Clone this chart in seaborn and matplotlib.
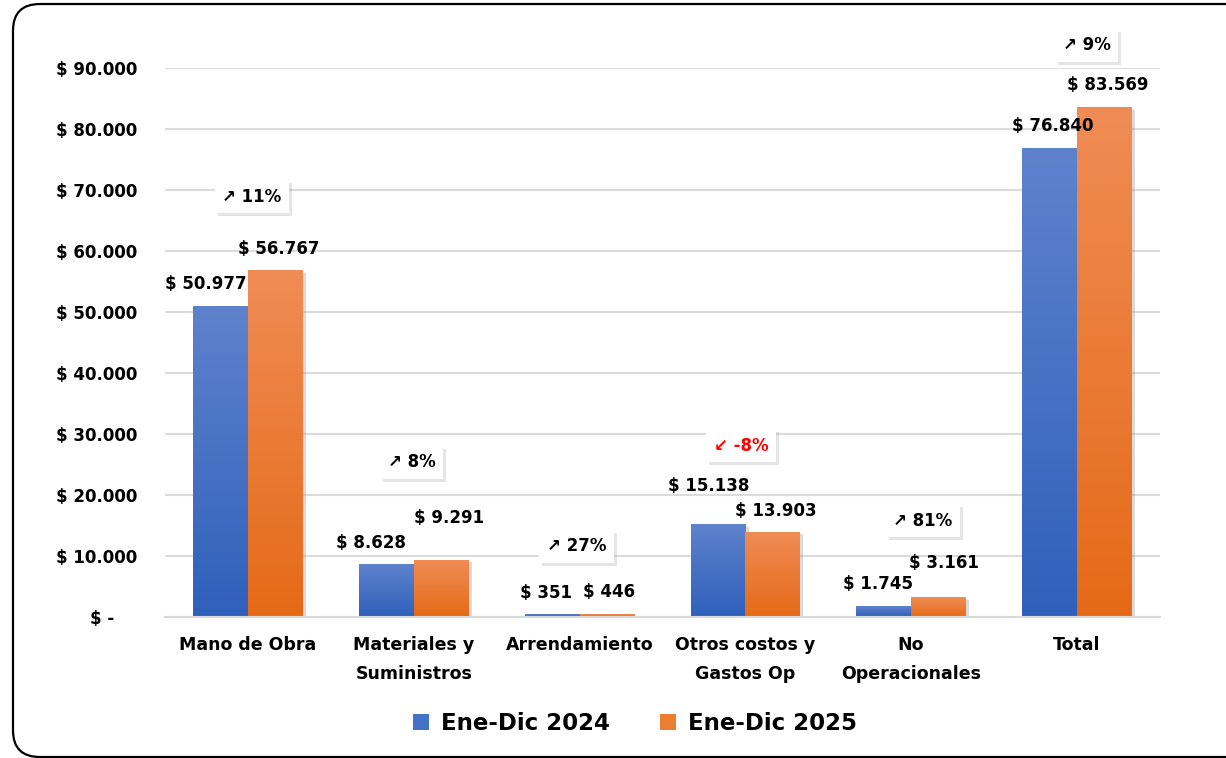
import numpy as np
import pandas as pd
import matplotlib
matplotlib.use("Agg")
import matplotlib.pyplot as plt
import matplotlib.patheffects as pe
from matplotlib.colors import LinearSegmentedColormap
from matplotlib.patches import FancyBboxPatch, Patch
import seaborn as sns

categories = ["Mano de Obra", "Materiales y\nSuministros", "Arrendamiento",
              "Otros costos y\nGastos Op", "No\nOperacionales", "Total"]
periods = ["Ene-Dic 2024", "Ene-Dic 2025"]
values_2024 = [50977, 8628, 351, 15138, 1745, 76840]
values_2025 = [56767, 9291, 446, 13903, 3161, 83569]
pct_change = [11, 8, 27, -8, 81, 9]
y_ticks = [0, 10000, 20000, 30000, 40000, 50000, 60000, 70000, 80000, 90000]

df = pd.DataFrame({
    "categoria": categories * 2,
    "periodo": [periods[0]] * 6 + [periods[1]] * 6,
    "valor": values_2024 + values_2025,
})

sns.set_theme(style="white")
plt.rcParams["font.family"] = ["DejaVu Sans"]
plt.rcParams["font.weight"] = "bold"
plt.rcParams["text.color"] = "black"

grad_colors = [("#2f60bb", "#5f82cc"), ("#e56a17", "#f08c55")]
solid_colors = ["#4472c4", "#ed7d31"]

fig = plt.figure(figsize=(12.26, 7.58), dpi=100)
ax = fig.add_axes([0.1346, 0.186, 0.8114, 0.724])

sns.barplot(data=df, x="categoria", y="valor", hue="periodo", order=categories,
            hue_order=periods, palette=solid_colors, width=0.66, gap=0,
            linewidth=0, errorbar=None, ax=ax, zorder=2)
ax.get_legend().remove()

# gradient fill + shadow per bar
for k, cont in enumerate(ax.containers):
    cmap = LinearSegmentedColormap.from_list("g%d" % k, list(grad_colors[k]))
    for bar in cont:
        x0, w, h = bar.get_x(), bar.get_width(), bar.get_height()
        bar.set_path_effects([pe.SimplePatchShadow(offset=(2.5, -1.5), shadow_rgbFace="#888888", alpha=0.3), pe.Normal()])
        grad = np.linspace(0, 1, 256).reshape(-1, 1)
        ax.imshow(grad, extent=[x0, x0 + w, 0, h], origin="lower", aspect="auto",
                  cmap=cmap, zorder=2.5, interpolation="bicubic")

ax.set_xlim(-0.5, 5.5)
ax.set_ylim(0, 90000)
ax.set_yticks(y_ticks)
ax.set_yticklabels(["$ -    " if v == 0 else "$ " + f"{v:,}".replace(",", ".") for v in y_ticks])
ax.grid(axis="y", color="#dcdcdc", linewidth=1.5, zorder=0)
ax.set_axisbelow(True)
for s in ["top", "right", "left"]:
    ax.spines[s].set_visible(False)
ax.spines["bottom"].set_color("#d9d9d9")
ax.spines["bottom"].set_linewidth(1.5)
ax.tick_params(axis="y", length=0, pad=20, labelsize=12, labelcolor="black")
ax.tick_params(axis="x", length=0, pad=14, labelsize=12.5, labelcolor="black")
for t in ax.get_xticklabels():
    t.set_linespacing(1.75)
    t.set_fontweight("bold")
for t in ax.get_yticklabels():
    t.set_fontweight("bold")
ax.set_xlabel("")
ax.set_ylabel("")

# value labels (offsets in pixels relative to bar top)
offsets_2024 = [(-15, 22), (-15, 21), (-6, 22), (-9, 39), (-6, 22), (3, 22)]
offsets_2025 = [(3, 22), (8, 42), (2, 22), (3, 21), (5, 35), (3, 22)]
for k, offs in enumerate([offsets_2024, offsets_2025]):
    for bar, off in zip(ax.containers[k], offs):
        v = bar.get_height()
        ax.annotate("$ " + f"{int(round(v)):,}".replace(",", "."),
                    xy=(bar.get_x() + bar.get_width() / 2, v), xytext=off,
                    textcoords="offset pixels", ha="center", va="center",
                    fontsize=12, fontweight="bold", color="black", zorder=5,
                    annotation_clip=False)

# percentage change boxes
pct_offsets = [(4, 74), (-2, 98), (-3, 68), (-4, 79), (12, 77), (10, 62)]
for i, (p, off) in enumerate(zip(pct_change, pct_offsets)):
    top = max(values_2024[i], values_2025[i])
    txt = ("\u2197 %d%%" % p) if p >= 0 else ("\u2199 %d%%" % p)
    col = "black" if p >= 0 else "red"
    a = ax.annotate(txt, xy=(i, top), xytext=off, textcoords="offset pixels",
                    ha="center", va="center", fontsize=12, fontweight="bold",
                    color=col, zorder=6, annotation_clip=False,
                    bbox=dict(boxstyle="square,pad=0.45", fc="white", ec="none"))
    a.get_bbox_patch().set_path_effects([
        pe.SimplePatchShadow(offset=(2, -2), shadow_rgbFace="#aaaaaa", alpha=0.3),
        pe.Normal()])

handles = [Patch(facecolor=c, edgecolor="none") for c in solid_colors]
fig.legend(handles, periods, loc="center", bbox_to_anchor=(0.518, 0.046), ncol=2,
           frameon=False, prop={"size": 16.5, "weight": "bold"}, labelcolor="black",
           handlelength=0.7, handleheight=0.7, handletextpad=0.5, columnspacing=2.2)

border = FancyBboxPatch((0.0106, 0.0013), 1.05, 0.9934, transform=fig.transFigure,
                        boxstyle="round,pad=0,rounding_size=0.022",
                        fc="none", ec="black", lw=1.6, mutation_aspect=1.6)
fig.patches.append(border)

fig.savefig("out.png", dpi=100)
